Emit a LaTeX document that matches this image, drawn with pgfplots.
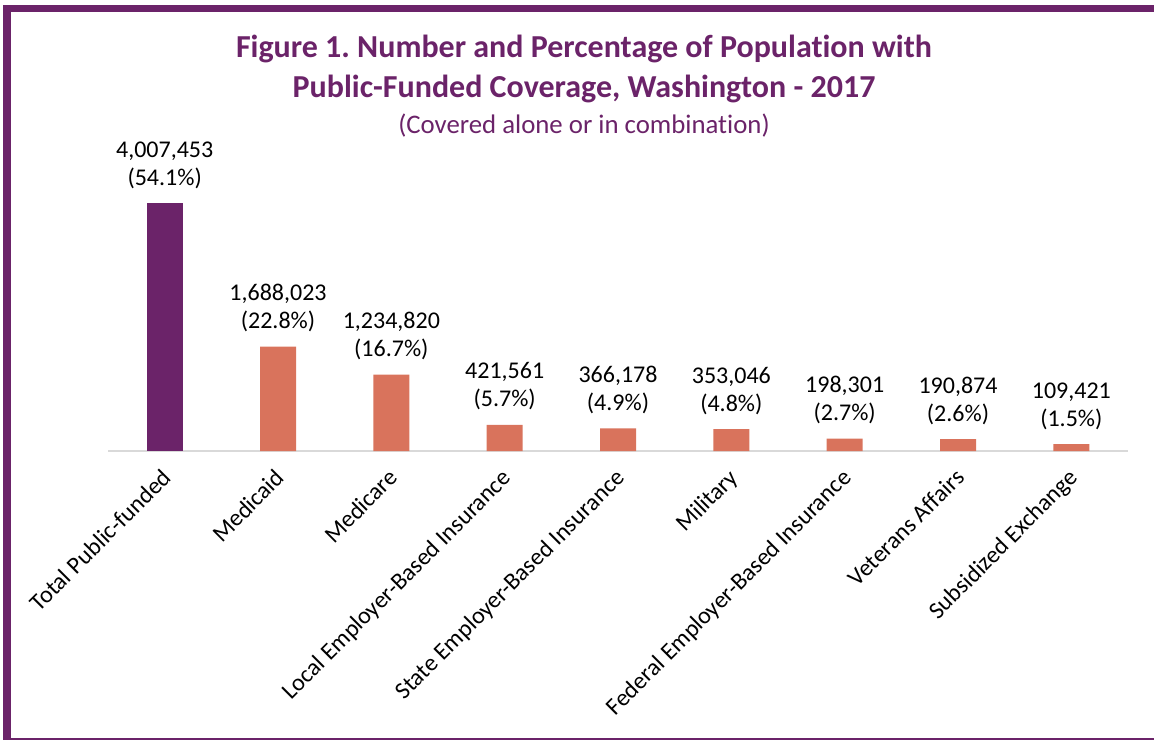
\documentclass[border=0pt]{standalone}
\usepackage{pgfplots}
\pgfplotsset{compat=1.18}
\usepackage{pgfplotstable}
\usepackage{fontspec}
\setmainfont{Carlito}[Ligatures=NoCommon]

\definecolor{wapurple}{HTML}{6B2369}
\definecolor{wasalmon}{HTML}{D9735C}
\definecolor{axisgrey}{HTML}{D9D9D9}

% number of people and share of population
\pgfplotstableread{
x y lab pct
0 4007453 4,007,453 54.1
}\totaltab
\pgfplotstableread{
x y lab pct
1 1688023 1,688,023 22.8
2 1234820 1,234,820 16.7
3 421561 421,561 5.7
4 366178 366,178 4.9
5 353046 353,046 4.8
6 198301 198,301 2.7
7 190874 190,874 2.6
8 109421 109,421 1.5
}\othertab

\begin{document}
\begin{tikzpicture}[x=0.5pt,y=0.5pt]
\useasboundingbox (0,0) rectangle (1154,740);
% frame
\fill[wapurple] (3,728) rectangle (1154,735);
\fill[wapurple] (3,0) rectangle (11,735);
\fill[wapurple] (3,0) rectangle (1154,2);

% titles
\node[font=\fontsize{16}{19}\selectfont\bfseries, text=wapurple] at (584,691)
  {Figure 1.\ Number and Percentage of Population with};
\node[font=\fontsize{16}{19}\selectfont\bfseries, text=wapurple] at (584,651)
  {Public-Funded Coverage, Washington - 2017};
\node[font=\fontsize{13.4}{16}\selectfont, text=wapurple] at (584,614)
  {(Covered alone or in combination)};

\begin{axis}[
    at={(54pt,144.5pt)}, anchor=south west,
    width=510pt, height=154.7pt, scale only axis,
    xmin=-0.5, xmax=8.5,
    ymin=0, ymax=5000000,
    clip=false,
    axis x line*=bottom,
    axis y line=none,
    x axis line style={draw=axisgrey, line width=0.8pt},
    xtick={0,...,8},
    major tick length=0pt,
    xticklabels={Total Public-funded, Medicaid, Medicare,
      Local Employer-Based Insurance, State Employer-Based Insurance,
      Military, Federal Employer-Based Insurance, Veterans Affairs,
      Subsidized Exchange},
    xticklabel style={xshift=-2pt, yshift=-8pt, rotate=45, anchor=north east,
      inner sep=0pt, font=\fontsize{12}{14}\selectfont},
    ytick=\empty,
    ybar, bar width=18pt, bar shift=0pt,
    point meta=explicit symbolic,
    nodes near coords style={anchor=base, inner sep=0pt, text=black,
      font=\fontsize{12}{14}\selectfont},
]
% bars with the count above them
\addplot[draw=none, fill=wapurple, nodes near coords,
  nodes near coords style={yshift=23pt}] table[x=x, y=y, meta=lab] {\totaltab};
\addplot[draw=none, fill=wasalmon, nodes near coords,
  nodes near coords style={yshift=23pt}] table[x=x, y=y, meta=lab] {\othertab};
% share of population, one line lower
\addplot[draw=none, fill=none, nodes near coords={(\pgfplotspointmeta\%)},
  nodes near coords style={yshift=9pt}] table[x=x, y=y, meta=pct] {\totaltab};
\addplot[draw=none, fill=none, nodes near coords={(\pgfplotspointmeta\%)},
  nodes near coords style={yshift=9pt}] table[x=x, y=y, meta=pct] {\othertab};
\end{axis}
\end{tikzpicture}
\end{document}
